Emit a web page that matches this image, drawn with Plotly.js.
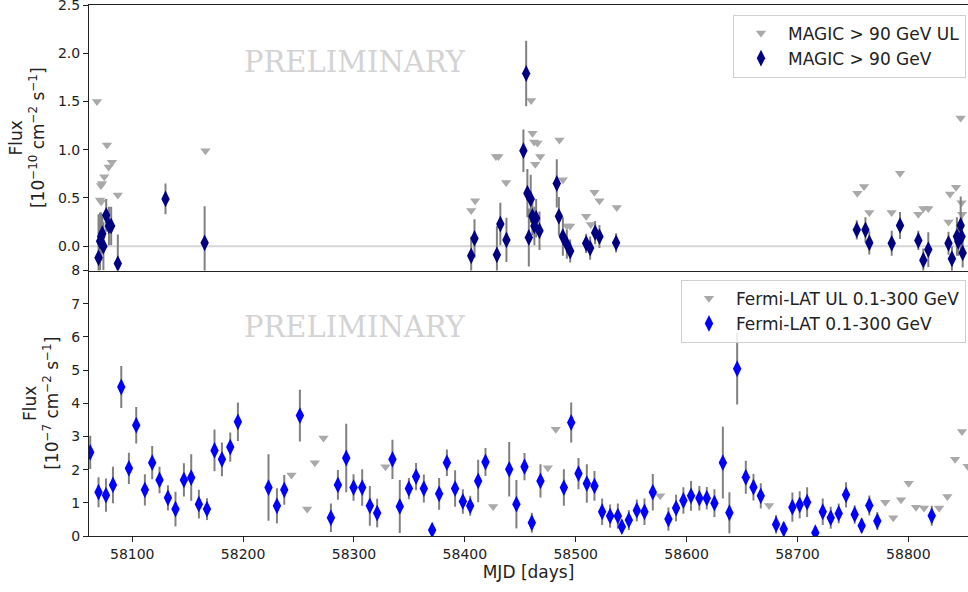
<!DOCTYPE html>
<html>
<head>
<meta charset="utf-8">
<script src="https://cdn.plot.ly/plotly-3.0.1.min.js"></script>
<style>
html,body{margin:0;padding:0;background:#fff;overflow:hidden;}
#chart{width:968px;height:592px;}
</style>
</head>
<body>
<div id="chart"></div>
<script>
// ---- MAGIC > 90 GeV (flux in 1e-10 cm^-2 s^-1) ----
const magicMJD = [58069.6,58071.0,58072.0,58073.0,58074.0,58076.5,58079.0,58081.0,58087.0,58130.0,58165.3,
  58405.7,58408.7,58428.9,58432.0,58437.5,58452.8,58455.3,58456.4,58457.7,58459.4,58460.9,58462.7,58464.3,58467.3,
  58482.9,58484.8,58488.4,58492.0,58495.0,58509.4,58513.0,58517.5,58521.4,58536.4,
  58753.5,58761.3,58764.8,58785.0,58792.5,58809.0,58813.5,58818.0,58836.2,58839.3,58843.8,58845.0,58847.2,58848.0,58849.0];
const magicFlux = [-0.12,0.05,0.10,0.13,0.00,0.32,0.21,0.21,-0.18,0.49,0.035,
  -0.10,0.08,-0.09,0.23,0.065,0.99,1.79,0.55,0.09,0.49,0.31,0.21,0.29,0.16,
  0.65,0.31,0.10,0.02,-0.05,0.03,-0.02,0.14,0.10,0.035,
  0.17,0.17,0.035,0.03,0.215,0.06,-0.145,-0.035,0.03,-0.13,0.10,0.05,0.215,0.10,-0.07];
const magicErr = [0.45,0.30,0.25,0.20,0.25,0.17,0.20,0.20,0.30,0.16,0.38,
  0.20,0.20,0.30,0.22,0.23,0.22,0.34,0.25,0.30,0.25,0.20,0.20,0.20,0.20,
  0.25,0.20,0.20,0.15,0.12,0.10,0.12,0.12,0.12,0.10,
  0.10,0.13,0.12,0.13,0.14,0.10,0.12,0.18,0.12,0.13,0.20,0.15,0.30,0.20,0.15];
// ---- MAGIC upper limits ----
const magicUlMJD = [58068.2,58071.0,58072.0,58072.7,58071.8,58074.8,58077.2,58078.7,58081.7,58087.0,58166.0,
  58405.7,58409.3,58428.0,58430.3,58437.2,58459.8,58461.0,58462.5,58465.5,58463.5,58468.0,58485.3,58488.4,
  58492.0,58495.0,58509.4,58513.6,58516.9,58521.4,58537.0,
  58754.0,58760.0,58764.8,58784.9,58792.5,58809.0,58813.5,58818.0,58836.2,58837.6,58843.0,58847.2,58848.0,58848.5];
const magicUlFlux = [1.50,0.48,0.46,0.65,0.63,0.72,1.05,0.82,0.87,0.53,0.99,
  0.37,0.47,0.93,0.93,0.66,1.51,1.17,1.08,1.07,0.85,0.93,1.10,0.69,
  0.21,0.21,0.31,0.225,0.56,0.47,0.40,
  0.55,0.62,0.35,0.35,0.755,0.33,0.39,0.39,0.25,0.54,0.61,1.33,0.45,0.33];

// ---- Fermi-LAT 0.1-300 GeV (flux in 1e-7 cm^-2 s^-1) ----
const fermiMJD = [58062.1,58069.6,58076.3,58082.6,58090.1,58097.0,58103.6,58111.4,58118.0,58124.6,58132.2,58139.0,
  58146.6,58153.2,58160.1,58167.4,58174.2,58180.9,58188.4,58195.3,58222.9,58230.5,58237.1,58251.2,58279.2,58285.5,
  58293.0,58299.6,58307.4,58314.3,58320.9,58334.7,58341.3,58349.5,58356.0,58363.0,58370.5,58376.8,58383.8,58391.2,
  58398.2,58404.8,58412.0,58418.6,58440.0,58446.5,58453.8,58460.4,58468.2,58489.3,58495.9,58502.5,58510.0,58516.9,
  58523.8,58531.0,58538.0,58541.6,58547.9,58555.1,58562.0,58569.5,58583.6,58590.5,58597.1,58604.0,58611.5,58618.2,
  58625.1,58632.7,58638.6,58645.6,58653.4,58660.3,58666.9,58680.7,58687.6,58695.4,58702.0,58708.7,58716.1,58722.8,
  58730.0,58737.2,58743.8,58751.6,58757.9,58764.8,58772.0,58821.1];
const fermiFlux = [2.52,1.32,1.23,1.54,4.49,2.04,3.34,1.39,2.21,1.69,1.15,0.81,
  1.69,1.76,0.96,0.81,2.58,2.31,2.68,3.44,1.46,0.91,1.39,3.63,0.55,1.54,
  2.35,1.46,1.46,0.91,0.69,2.31,0.89,1.43,1.79,1.43,0.18,1.27,2.21,1.43,
  1.04,0.91,1.66,2.23,2.01,0.96,2.09,0.40,1.66,1.46,3.42,1.88,1.58,1.51,
  0.73,0.60,0.60,0.28,0.48,0.77,0.73,1.32,0.51,0.84,1.07,1.21,1.14,1.14,
  0.99,2.21,0.70,5.04,1.77,1.47,1.21,0.35,0.21,0.87,0.94,1.02,0.10,0.73,
  0.55,0.68,1.24,0.65,0.31,0.92,0.45,0.61];
const fermiErr = [0.50,0.45,0.50,0.55,0.63,0.47,0.55,0.47,0.50,0.40,0.38,0.52,
  0.50,0.70,0.43,0.33,0.63,0.51,0.44,0.58,1.00,0.53,0.45,0.78,0.43,0.45,
  1.03,0.40,0.55,0.60,0.43,0.59,0.80,0.32,0.41,0.42,0.12,0.48,0.40,0.55,
  0.37,0.30,0.64,0.42,0.82,0.73,0.41,0.30,0.50,0.55,0.60,0.47,0.58,0.45,
  0.40,0.35,0.38,0.20,0.30,0.33,0.40,0.55,0.35,0.40,0.40,0.45,0.37,0.34,
  0.42,1.08,0.62,1.08,0.50,0.40,0.38,0.28,0.20,0.44,0.41,0.45,0.12,0.40,
  0.33,0.30,0.38,0.28,0.22,0.30,0.27,0.30];
// ---- Fermi-LAT upper limits ----
const fermiUlMJD = [58243.6,58257.8,58264.7,58272.5,58328.4,58425.5,58474.8,58482.0,58576.2,58674.4,
  58779.2,58786.4,58793.4,58800.3,58806.9,58814.1,58827.7,58835.2,58842.1,58848.4,58853.5];
const fermiUlFlux = [1.84,0.81,2.21,2.95,2.09,0.89,2.06,3.22,1.21,0.92,
  1.02,0.55,1.09,1.59,0.87,0.84,0.84,1.19,2.31,3.15,2.10];

const xRange = [58061.0, 58853.8];
const fontFam = 'DejaVu Sans, sans-serif';
const ulColor = '#a9a9a9';
const errColor = '#808080';

const traces = [
  {x: magicUlMJD, y: magicUlFlux, type: 'scatter', mode: 'markers', name: 'MAGIC > 90 GeV UL',
   xaxis: 'x2', yaxis: 'y2', legend: 'legend',
   marker: {symbol: 'triangle-down', size: 9, color: ulColor}},
  {x: magicMJD, y: magicFlux, type: 'scatter', mode: 'markers', name: 'MAGIC > 90 GeV',
   xaxis: 'x2', yaxis: 'y2', legend: 'legend',
   error_y: {type: 'data', array: magicErr, visible: true, color: errColor, thickness: 2, width: 0},
   marker: {symbol: 'diamond-tall', size: 12, color: '#000080'}},
  {x: fermiUlMJD, y: fermiUlFlux, type: 'scatter', mode: 'markers', name: 'Fermi-LAT UL 0.1-300 GeV',
   xaxis: 'x', yaxis: 'y', legend: 'legend2',
   marker: {symbol: 'triangle-down', size: 9, color: ulColor}},
  {x: fermiMJD, y: fermiFlux, type: 'scatter', mode: 'markers', name: 'Fermi-LAT 0.1-300 GeV',
   xaxis: 'x', yaxis: 'y', legend: 'legend2',
   error_y: {type: 'data', array: fermiErr, visible: true, color: errColor, thickness: 2, width: 0},
   marker: {symbol: 'diamond-tall', size: 12, color: '#0000ff'}}
];

const tickFont = {family: fontFam, size: 14, color: '#222'};
const titleFont = {family: fontFam, size: 17, color: '#222'};
const legendFont = {family: fontFam, size: 17, color: '#222'};
const layout = {
  width: 968, height: 592,
  margin: {l: 89, r: 0, t: 5, b: 56},
  paper_bgcolor: '#fff', plot_bgcolor: '#fff',
  font: {family: fontFam, size: 14, color: '#222'},
  xaxis: {domain: [0, 1], anchor: 'y', range: xRange, showgrid: false, zeroline: false,
    showline: true, linecolor: '#222', linewidth: 1, mirror: false,
    ticks: 'outside', ticklen: 5, tickcolor: '#222', tick0: 58100, dtick: 100,
    tickformat: 'd', tickfont: tickFont,
    title: {text: 'MJD [days]', font: titleFont, standoff: 4}},
  yaxis: {domain: [0, 0.5], anchor: 'x', range: [0, 8.0001], showgrid: false, zeroline: false,
    showline: true, linecolor: '#222', linewidth: 1, ticklabeloverflow: 'allow',
    ticks: 'outside', ticklen: 5, tickcolor: '#222', tick0: 0, dtick: 1, tickfont: tickFont,
    title: {text: 'Flux<br>[10<sup>−7</sup> cm<sup>−2</sup> s<sup>−1</sup>]',
      font: titleFont, standoff: 8}},
  xaxis2: {domain: [0, 1], anchor: 'y2', matches: 'x', range: xRange, showgrid: false, zeroline: false,
    showline: true, linecolor: '#222', linewidth: 1, mirror: true,
    ticks: '', showticklabels: false},
  yaxis2: {domain: [0.5, 1], anchor: 'x2', range: [-0.252, 2.5002], showgrid: false, zeroline: false,
    showline: true, linecolor: '#222', linewidth: 1, ticklabeloverflow: 'allow',
    ticks: 'outside', ticklen: 5, tickcolor: '#222', tick0: 0, dtick: 0.5, tickformat: '.1f', tickfont: tickFont,
    title: {text: 'Flux<br>[10<sup>−10</sup> cm<sup>−2</sup> s<sup>−1</sup>]',
      font: titleFont, standoff: 8}},
  shapes: [
    {type: 'line', xref: 'x2 domain', yref: 'y2', x0: 0, x1: 1, y0: 0, y1: 0,
     line: {color: '#d6d6d6', width: 2}, layer: 'below'}
  ],
  annotations: [
    {text: 'PRELIMINARY', xref: 'x2 domain', yref: 'y2 domain', x: 0.303, y: 0.787,
     xanchor: 'center', yanchor: 'middle', showarrow: false,
     font: {family: 'DejaVu Serif, serif', size: 29, color: '#d3d3d3'}},
    {text: 'PRELIMINARY', xref: 'x domain', yref: 'y domain', x: 0.303, y: 0.789,
     xanchor: 'center', yanchor: 'middle', showarrow: false,
     font: {family: 'DejaVu Serif, serif', size: 29, color: '#d3d3d3'}}
  ],
  legend: {x: 0.9977, y: 0.982, xanchor: 'right', yanchor: 'top', xref: 'paper', yref: 'paper',
    bgcolor: 'rgba(255,255,255,0.85)', bordercolor: '#d0d0d0', borderwidth: 1,
    font: legendFont, itemwidth: 44, tracegroupgap: 0},
  legend2: {x: 0.9977, y: 0.4826, xanchor: 'right', yanchor: 'top', xref: 'paper', yref: 'paper',
    bgcolor: 'rgba(255,255,255,0.85)', bordercolor: '#d0d0d0', borderwidth: 1,
    font: legendFont, itemwidth: 44, tracegroupgap: 0},
  showlegend: true
};

Plotly.newPlot('chart', traces, layout, {displayModeBar: false, staticPlot: true});
</script>
</body>
</html>
